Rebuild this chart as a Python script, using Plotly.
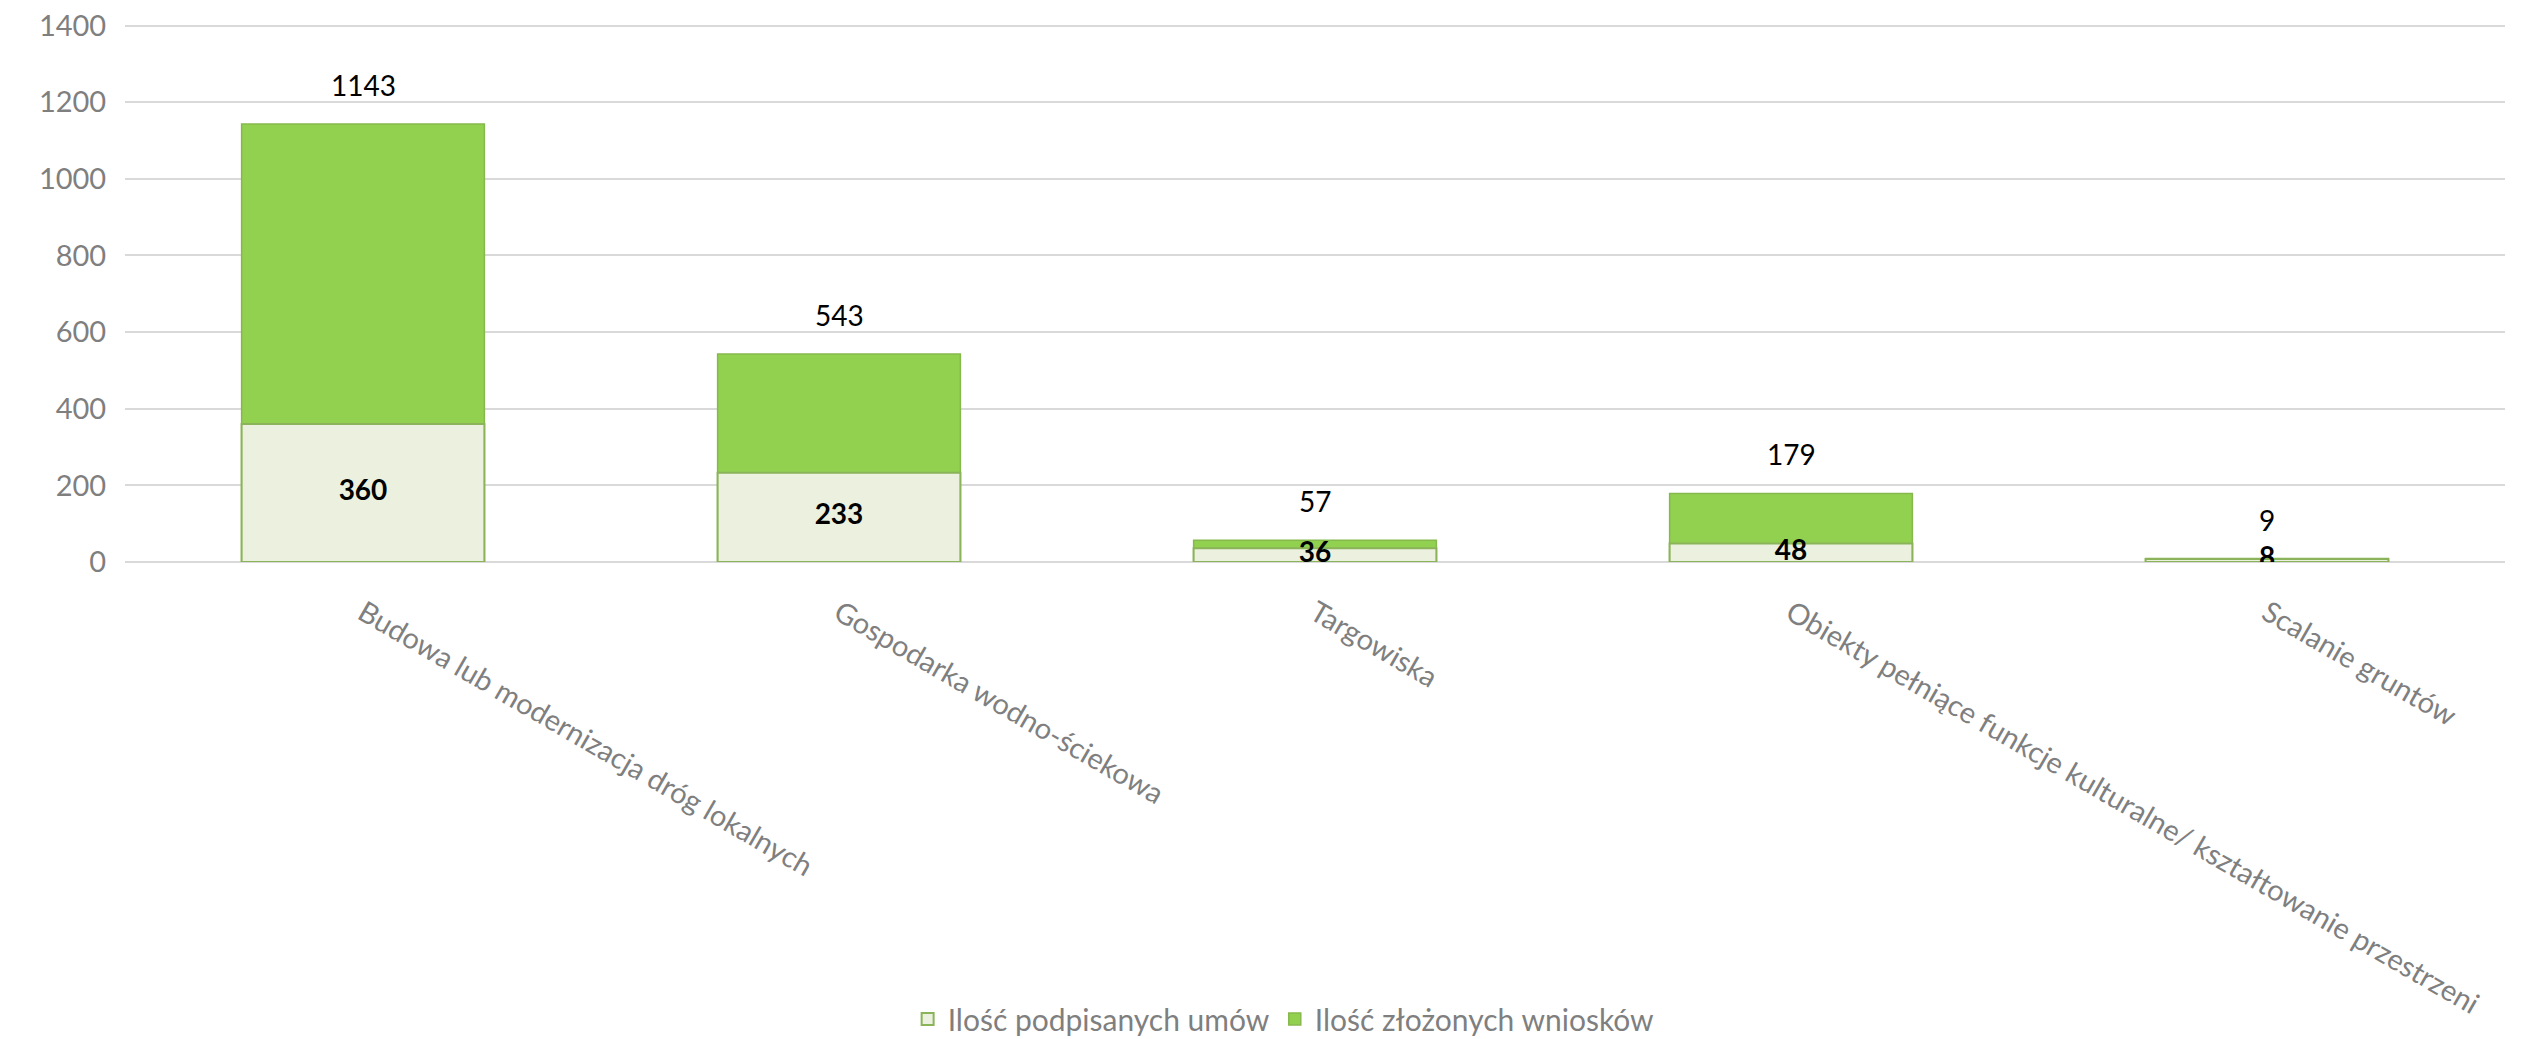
import plotly.graph_objects as go

kategorie = [
    "Budowa lub modernizacja dróg lokalnych",
    "Gospodarka wodno-ściekowa",
    "Targowiska",
    "Obiekty pełniące funkcje kulturalne/ kształtowanie przestrzeni",
    "Scalanie gruntów",
]
wnioski = [1143, 543, 57, 179, 9]
umowy = [360, 233, 36, 48, 8]

FONT = "Lato"
SZARY = "#7F7F7F"

fig = go.Figure()
fig.add_bar(x=kategorie, y=wnioski, name="Ilość złożonych wniosków",
            marker=dict(color="#92D050", line=dict(color="#86B94C", width=1.5)),
            legendrank=2, hoverinfo="y")
fig.add_bar(x=kategorie, y=umowy, name="Ilość podpisanych umów",
            marker=dict(color="#EBF1DE", line=dict(color="#8AB35A", width=2)),
            legendrank=1, hoverinfo="y")

# etykiety: suma nad słupkiem, umowy pogrubione w połowie jasnego słupka
fig.add_scatter(x=kategorie, y=[u / 2 for u in umowy], mode="text",
                text=[f"<b>{u}</b>" for u in umowy], textposition="middle center",
                textfont=dict(family=FONT, size=28, color="black"),
                showlegend=False, hoverinfo="skip")
for k, w in zip(kategorie, wnioski):
    fig.add_annotation(x=k, y=w, text=str(w), showarrow=False, yanchor="bottom",
                       yshift=20, font=dict(family=FONT, size=28, color="black"))

fig.update_layout(
    barmode="overlay",
    bargap=0.49,
    width=2526, height=1039,
    paper_bgcolor="white", plot_bgcolor="white",
    margin=dict(l=117, r=29, t=16, b=485),
    font=dict(family=FONT, size=29, color=SZARY),
    legend=dict(orientation="h", xref="container", yref="container",
                x=0.505, y=0.027, xanchor="center", yanchor="middle",
                font=dict(family=FONT, size=30, color=SZARY),
                itemwidth=30, tracegroupgap=0),
)
fig.update_yaxes(range=[0, 1404], dtick=200, showgrid=True, gridcolor="#D9D9D9",
                 gridwidth=2, zeroline=True, zerolinecolor="#D9D9D9", zerolinewidth=2,
                 tickfont=dict(family=FONT, size=29, color=SZARY), ticks="outside",
                 ticklen=12, tickcolor="rgba(0,0,0,0)", automargin=False,
                 ticklabeloverflow="allow")
fig.update_xaxes(tickangle=30, showline=False, ticks="outside", ticklen=22,
                 tickcolor="rgba(0,0,0,0)", automargin=False,
                 tickfont=dict(family=FONT, size=29, color=SZARY))

fig.write_html("out.html")
